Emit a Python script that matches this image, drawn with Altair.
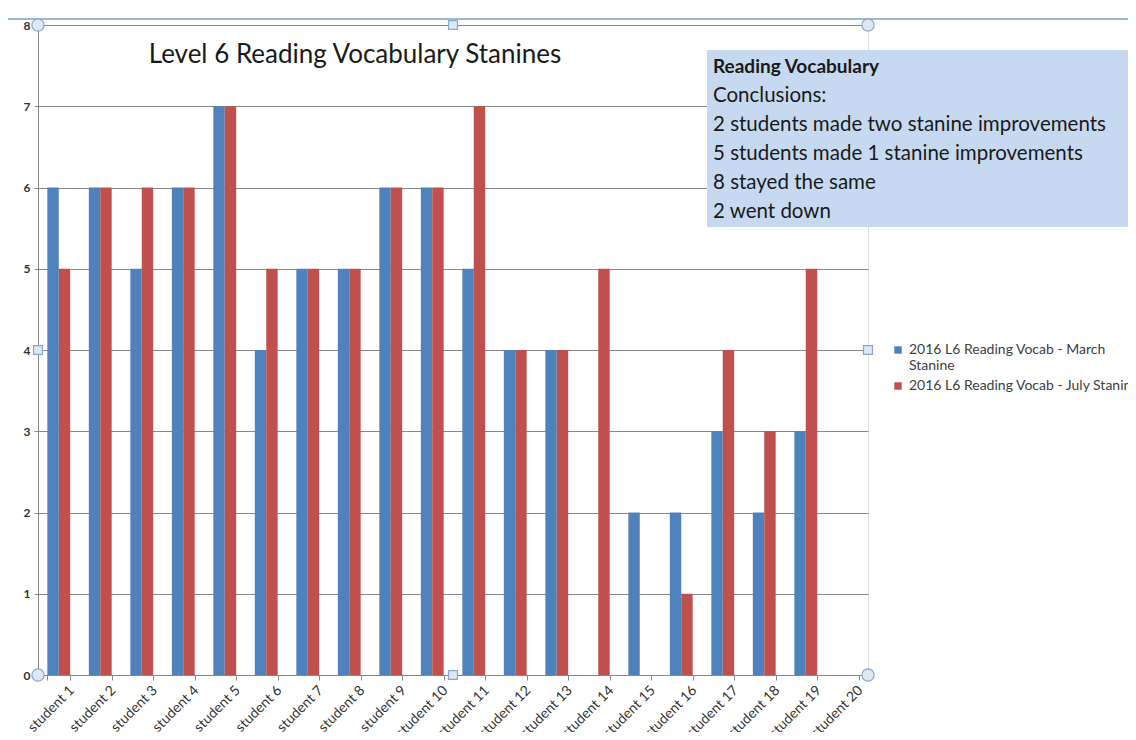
import altair as alt
import pandas as pd

students = [f"student {i}" for i in range(1, 21)]
march = [6, 6, 5, 6, 7, 4, 5, 5, 6, 6, 5, 4, 4, None, 2, 2, 3, 2, 3, None]
july = [5, 6, 6, 6, 7, 5, 5, 5, 6, 6, 7, 4, 4, 5, None, 1, 4, 3, 5, None]
series = ["2016 L6 Reading Vocab - March Stanine", "2016 L6 Reading Vocab - July Stanine"]
colors = ["#4f81bd", "#c0504d"]
title_text = "Level 6 Reading Vocabulary Stanines"
box_header = "Reading Vocabulary"
box_lines = [
    "Conclusions:",
    "2 students made two stanine improvements",
    "5 students made 1 stanine improvements",
    "8 stayed the same",
    "2 went down",
]

rows = []
for s, m, j in zip(students, march, july):
    rows.append({"student": s, "series": series[0], "value": m})
    rows.append({"student": s, "series": series[1], "value": j})
df = pd.DataFrame(rows)

FONT = "Lato"
W, H = 830, 650

bars = alt.Chart(df).mark_bar().encode(
    x=alt.X("student:N", sort=students, scale=alt.Scale(domain=students, paddingInner=0.45, paddingOuter=0.225),
            axis=alt.Axis(title=None, labelAngle=-45, labelFontSize=14, labelColor="#333333",
                          labelFont=FONT, tickBand="extent", tickSize=5, tickColor="#878787",
                          domainColor="#878787", labelPadding=3, labelOffset=8, grid=False)),
    xOffset=alt.XOffset("series:N", sort=series, scale=alt.Scale(domain=series)),
    y=alt.Y("value:Q", scale=alt.Scale(domain=[0, 8]),
            axis=alt.Axis(title=None, values=list(range(0, 9)), labelFontSize=12, labelFontWeight="bold",
                          labelColor="#333333", labelFont=FONT, tickSize=4, tickColor="#878787",
                          domainColor="#878787", gridColor="#878787", labelPadding=4)),
    color=alt.Color("series:N", sort=series, scale=alt.Scale(domain=series, range=colors),
                    legend=alt.Legend(title=None, orient="none", legendX=853, legendY=318,
                                      symbolType="square", symbolSize=55, symbolStrokeWidth=0,
                                      labelFont=FONT, labelFontSize=14, labelColor="#404040",
                                      labelLimit=400, rowPadding=6,
                                      labelExpr="datum.label == '2016 L6 Reading Vocab - March Stanine' ? ['2016 L6 Reading Vocab - March', 'Stanine'] : datum.label")),
)

one = alt.Data(values=[{"k": 1}])

title = alt.Chart(one).mark_text(fontSize=26, font=FONT, color="#1a1a1a", align="center", baseline="middle").encode(
    x=alt.value(317), y=alt.value(30), text=alt.value(title_text))

box = alt.Chart(one).mark_rect(color="#c6d9f1").encode(
    x=alt.value(669), x2=alt.value(1100), y=alt.value(25), y2=alt.value(202))

header = alt.Chart(one).mark_text(fontSize=19, font=FONT, fontWeight="bold", color="#1a1a1a",
                                  align="left", baseline="middle").encode(
    x=alt.value(675), y=alt.value(42), text=alt.value(box_header))

body = alt.Chart(one).mark_text(fontSize=20.5, font=FONT, color="#1a1a1a", align="left", baseline="middle",
                                lineHeight=29).encode(
    x=alt.value(675), y=alt.value(71), text=alt.value(box_lines))

frame = alt.Chart(one).mark_rule(color="#7f9fcf", strokeWidth=1.5).encode(
    x=alt.value(-38), x2=alt.value(1100), y=alt.value(-6))

# selection handles of the chart frame (decorative)
handles = pd.DataFrame({
    "px": [0, W, 0, W, W / 2, W / 2, 0, W],
    "py": [0, 0, H, H, 0, H, H / 2, H / 2],
    "shape": ["circle"] * 4 + ["square"] * 4,
    "sz": [150] * 4 + [80] * 4,
})
handle_marks = alt.Chart(handles).mark_point(filled=False, fill="#dce8f4", stroke="#8aa6c8", strokeWidth=1.2,
                                             opacity=1, fillOpacity=1).encode(
    x=alt.X("px:Q", scale=None), y=alt.Y("py:Q", scale=None),
    shape=alt.Shape("shape:N", scale=None), size=alt.Size("sz:Q", scale=None))

chart = alt.layer(bars, box, header, body, title, frame, handle_marks).properties(
    width=W, height=H, autosize=alt.AutoSizeParams(type="none"),
    padding={"left": 30, "top": 17, "right": 260, "bottom": 57},
).configure_view(stroke="#878787").configure(background="white")

chart.save("out.html", embed_options={"renderer": "svg", "actions": False})
